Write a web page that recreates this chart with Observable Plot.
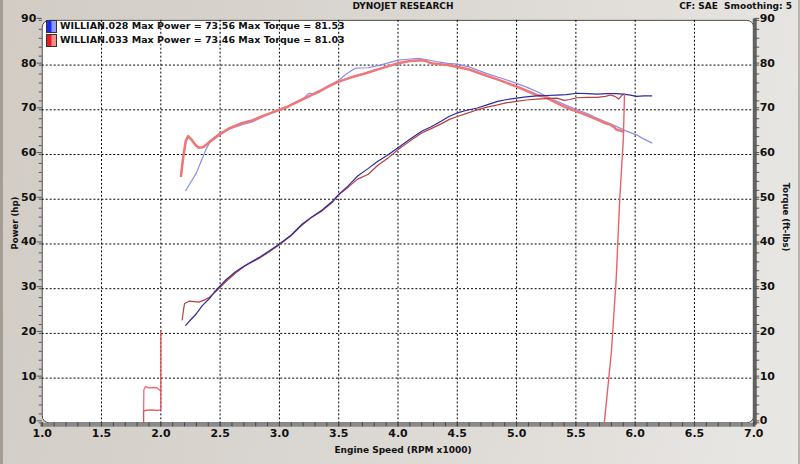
<!DOCTYPE html>
<html><head><meta charset="utf-8">
<script src="https://cdn.jsdelivr.net/npm/d3@7"></script>
<script src="https://cdn.jsdelivr.net/npm/@observablehq/plot@0.6"></script>
<style>
html,body{margin:0;padding:0;background:#dcd8d3;}
#wrap{position:relative;width:800px;height:464px;overflow:hidden;
 background:linear-gradient(100deg,#d2ccc5 0%,#dad6d1 45%,#e9e7e4 100%);
 font-family:"DejaVu Sans",Verdana,sans-serif;font-weight:bold;color:#111;
 box-sizing:border-box;border-left:3px solid #a59c93;border-right:2px solid #b8b2ab;}
#wrap svg{position:absolute;left:-3px;top:0;}
.t{position:absolute;white-space:nowrap;}
.sw{position:absolute;width:11px;height:13px;box-sizing:border-box;border:1px solid #333;}
</style></head><body>
<div id="wrap"></div>
<script>
// ---- data ----
const xTicks = [1.0,1.5,2.0,2.5,3.0,3.5,4.0,4.5,5.0,5.5,6.0,6.5,7.0];
const yTicks = [0,10,20,30,40,50,60,70,80,90];

const runNames = ["WILLIAN.028","WILLIAN.033"];
const maxPower = [73.56, 73.46];
const maxTorque = [81.53, 81.03];

// WILLIAN.028 (blue) power
const bPowRpm = [2.21,2.25,2.30,2.35,2.41,2.45,2.50,2.55,2.63,2.70,2.75,2.83,2.90,3.00,3.10,3.19,3.27,3.36,3.45,3.50,3.58,3.66,3.75,3.83,3.92,4.00,4.10,4.20,4.28,4.36,4.43,4.50,4.58,4.67,4.75,4.84,4.92,5.00,5.08,5.17,5.25,5.34,5.42,5.51,5.60,5.68,5.76,5.84,5.90,5.96,6.01,6.07,6.14];
const bPowHp  = [21.8,23.0,24.4,26.2,27.8,29.2,30.6,32.0,33.8,35.0,35.8,37.0,38.2,40.0,42.0,44.4,46.0,47.6,49.6,51.1,53.0,55.2,56.9,58.5,60.0,61.5,63.4,65.2,66.2,67.4,68.5,69.3,69.9,70.4,71.1,71.9,72.3,72.6,72.9,73.1,73.2,73.3,73.4,73.7,73.6,73.5,73.6,73.6,73.5,73.3,73.0,73.1,73.1];

// WILLIAN.028 (blue) torque
const bTqRpm = [2.21,2.25,2.30,2.34,2.38,2.41,2.45,2.50,2.58,2.68,2.77,2.85,2.92,3.00,3.07,3.13,3.20,3.25,3.30,3.34,3.41,3.50,3.57,3.64,3.75,3.85,3.92,4.00,4.08,4.17,4.25,4.34,4.42,4.50,4.60,4.75,4.88,5.00,5.10,5.17,5.23,5.34,5.42,5.51,5.60,5.68,5.76,5.84,5.92,6.01,6.07,6.14];
const bTqVal = [51.9,53.7,55.9,58.5,61.1,62.6,63.8,64.8,65.7,66.6,67.3,68.3,69.2,70.0,70.8,71.6,72.5,73.7,73.5,74.0,75.3,76.6,78.1,79.3,79.4,80.0,80.5,81.1,81.3,81.5,81.2,80.7,80.4,80.2,79.6,78.1,77.0,75.9,74.9,74.1,73.3,71.9,71.0,70.0,69.1,68.1,67.2,66.3,65.3,64.4,63.5,62.6];

// WILLIAN.033 (red) power, main run
const rPowRpm = [2.18,2.19,2.20,2.24,2.28,2.32,2.37,2.41,2.45,2.49,2.55,2.63,2.70,2.75,2.83,2.90,3.00,3.10,3.19,3.27,3.36,3.45,3.50,3.58,3.66,3.75,3.83,3.92,4.00,4.10,4.20,4.28,4.36,4.43,4.50,4.58,4.67,4.75,4.84,4.92,5.00,5.08,5.17,5.25,5.34,5.40,5.45,5.51,5.60,5.68,5.75,5.79,5.83,5.86,5.89,5.91];
const rPowHp  = [23.0,25.0,26.7,27.2,27.1,27.0,27.5,28.1,29.0,30.0,31.6,33.5,34.9,35.7,36.8,38.0,39.8,41.9,44.2,45.9,47.4,49.4,51.0,52.7,54.5,55.6,57.6,59.3,61.1,63.0,64.8,65.8,66.8,67.8,68.5,69.2,70.0,70.6,71.1,71.6,71.9,72.2,72.4,72.5,72.6,72.1,72.3,72.7,72.8,72.8,73.0,73.3,73.0,72.4,73.3,73.5];

// WILLIAN.033 (red) torque, main run
const rTqRpm = [2.17,2.18,2.19,2.21,2.23,2.26,2.29,2.32,2.36,2.42,2.49,2.58,2.68,2.77,2.85,2.92,3.00,3.07,3.13,3.20,3.27,3.34,3.41,3.50,3.60,3.72,3.80,3.90,4.00,4.10,4.20,4.24,4.28,4.35,4.42,4.50,4.60,4.73,4.85,5.00,5.10,5.17,5.23,5.34,5.42,5.51,5.60,5.68,5.75,5.79,5.82,5.84,5.87,5.89,5.90];
const rTqVal = [55.2,57.5,59.6,63.0,64.1,63.3,62.2,61.5,61.7,63.0,64.4,65.9,67.0,67.6,68.5,69.2,70.0,70.7,71.5,72.4,73.3,74.2,75.2,76.3,77.2,78.1,78.8,79.6,80.4,80.9,81.1,80.9,80.4,80.2,80.0,79.6,79.0,77.8,76.7,75.2,74.1,73.3,73.0,71.5,70.5,69.6,68.7,67.8,67.0,66.7,66.2,65.6,65.4,65.2,65.2];

// WILLIAN.033 (red) run-down trace
const rDownRpm = [5.91,5.90,5.87,5.84,5.80,5.74];
const rDownVal = [73.5,63.3,50.0,32.2,16.0,0];

// WILLIAN.033 (red) start-up traces
const rPow0Rpm = [1.855,1.855,1.87,1.92,1.97,1.995,2.0,2.0];
const rPow0Hp  = [0,2.6,2.8,2.9,2.8,2.9,3.0,20.5];
const rTq0Rpm  = [1.855,1.857,1.87,1.90,1.94,1.97,1.99,2.0];
const rTq0Val  = [2.6,7.4,8.1,7.8,7.9,7.8,7.3,7.0];

// ---- build ----
const rows = (xs, ys) => xs.map((x, i) => ({rpm: x, v: ys[i]}));
const yMinor = d3.range(0, 91, 2);
const xMinor = d3.range(10, 71, 1).map(d => d / 10);
const dash = {stroke: "#000", strokeOpacity: 1, strokeWidth: 1, strokeDasharray: "2,2"};

const chart = Plot.plot({
  width: 800, height: 464,
  marginLeft: 42, marginRight: 42, marginTop: 20, marginBottom: 39,
  x: {domain: [1, 7]},
  y: {domain: [0, 90]},
  style: {background: "transparent", fontFamily: "'DejaVu Sans', Verdana, sans-serif", fontSize: "11px", fontWeight: "bold", color: "#111"},
  marks: [
    Plot.frame({fill: "white", stroke: "#4a4a4a", strokeWidth: 1, rx: 7}),
    Plot.gridX(xTicks.slice(1, -1), dash),
    Plot.gridY(yTicks.slice(1, -1), dash),
    Plot.frame({anchor: "bottom", stroke: "#8a8a8a", strokeWidth: 4, dy: 2}),
    Plot.frame({anchor: "right", stroke: "#626262", strokeWidth: 4, dx: 1}),
    Plot.axisX(xMinor, {anchor: "bottom", tickSize: 4, stroke: "#444", tickFormat: () => "", label: null}),
    Plot.axisX(xTicks, {anchor: "bottom", tickSize: 4, tickPadding: 2, stroke: "#444", tickFormat: d3.format(".1f"), label: null}),
    Plot.axisY(yMinor, {anchor: "left", tickSize: 3, stroke: "#555", tickFormat: () => "", label: null}),
    Plot.axisY(yTicks, {anchor: "left", tickSize: 5, tickPadding: 1, dy: -2, stroke: "#555", label: null}),
    Plot.axisY(yMinor, {anchor: "right", tickSize: 5, stroke: "#555", tickFormat: () => "", label: null}),
    Plot.axisY(yTicks, {anchor: "right", tickSize: 5, tickPadding: 1, dy: -2, stroke: "#555", label: null}),
    Plot.line(rows(bTqRpm, bTqVal), {x: "rpm", y: "v", stroke: "#8c8ce8", strokeWidth: 1.2}),
    Plot.line(rows(rTqRpm, rTqVal), {x: "rpm", y: "v", stroke: "#f07777", strokeWidth: 2.6}),
    Plot.line(rows(rTq0Rpm, rTq0Val), {x: "rpm", y: "v", stroke: "#ec6a72", strokeWidth: 1.3}),
    Plot.line(rows(rPowRpm, rPowHp), {x: "rpm", y: "v", stroke: "#b4403f", strokeWidth: 1.2}),
    Plot.line(rows(bPowRpm, bPowHp), {x: "rpm", y: "v", stroke: "#2c2c9c", strokeWidth: 1.2}),
    Plot.line(rows(rDownRpm, rDownVal), {x: "rpm", y: "v", stroke: "#e8606a", strokeWidth: 1.4}),
    Plot.line(rows(rPow0Rpm, rPow0Hp), {x: "rpm", y: "v", stroke: "#e0505a", strokeWidth: 1.3})
  ]
});

const wrap = document.getElementById("wrap");
wrap.appendChild(chart);

function addText(txt, css) {
  const d = document.createElement("div");
  d.className = "t";
  d.textContent = txt;
  Object.assign(d.style, css);
  wrap.appendChild(d);
  return d;
}
addText("DYNOJET RESEARCH", {left: "340px", width: "120px", textAlign: "center", top: "1px", fontSize: "9px"});
addText("CF: SAE  Smoothing: 5", {right: "6px", top: "1px", fontSize: "9px", whiteSpace: "pre"});
addText("Engine Speed (RPM x1000)", {left: "300px", width: "200px", textAlign: "center", top: "445px", fontSize: "9px"});
addText("Power (hp)", {left: "-38px", width: "100px", textAlign: "center", top: "218px", fontSize: "8.5px", transform: "rotate(-90deg)"});
addText("Torque (ft-lbs)", {left: "733px", width: "100px", textAlign: "center", top: "212px", fontSize: "8.5px", transform: "rotate(90deg)"});

const swCols = [["#1a2cf0", "#8e9cff"], ["#e41c28", "#ff8a8a"]];
runNames.forEach((n, i) => {
  const s = document.createElement("div");
  s.className = "sw";
  s.style.left = "43px";
  s.style.top = (20 + i * 14) + "px";
  s.style.background = `linear-gradient(90deg, ${swCols[i][0]} 0 45%, ${swCols[i][1]} 55% 100%)`;
  wrap.appendChild(s);
  addText(`${n} Max Power = ${maxPower[i].toFixed(2)} Max Torque = ${maxTorque[i].toFixed(2)}`,
    {left: "57px", top: (20 + i * 14) + "px", fontSize: "9.5px"});
});
</script>
</body></html>
